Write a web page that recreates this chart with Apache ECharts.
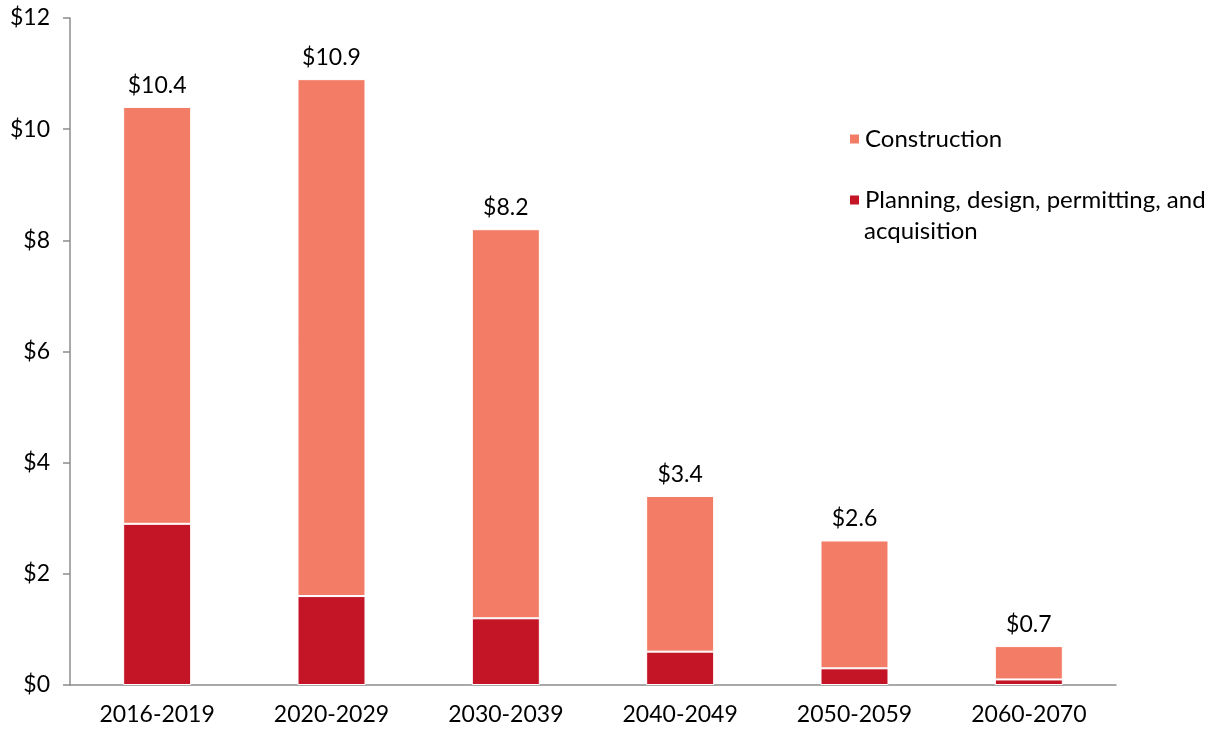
<!DOCTYPE html>
<html>
<head>
<meta charset="utf-8">
<script src="https://cdn.jsdelivr.net/npm/echarts@6/dist/echarts.min.js"></script>
<style>
  html, body { margin: 0; padding: 0; background: #fff; }
  #chart { width: 1215px; height: 731px; }
</style>
</head>
<body>
<div id="chart"></div>
<script>
const categories = ['2016-2019', '2020-2029', '2030-2039', '2040-2049', '2050-2059', '2060-2070'];
const planning = [2.9, 1.6, 1.2, 0.6, 0.3, 0.1];
const construction = [7.5, 9.3, 7.0, 2.8, 2.3, 0.6];
const totals = ['$10.4', '$10.9', '$8.2', '$3.4', '$2.6', '$0.7'];

const font = 'Lato, "Open Sans", sans-serif';
const axisColor = '#8c8c8c';
const planningName = 'Planning, design, permitting, and acquisition';

const chart = echarts.init(document.getElementById('chart'));
chart.setOption({
  animation: false,
  textStyle: { fontFamily: font, color: '#000' },
  grid: { left: 70, right: 99, top: 18, bottom: 46, containLabel: false },
  legend: {
    orient: 'vertical',
    left: 843,
    top: 122,
    itemWidth: 11,
    itemHeight: 11,
    itemGap: 37,
    icon: 'rect',
    data: ['Construction', planningName],
    formatter: n => n === planningName ? 'Planning, design, permitting, and' : n,
    textStyle: { fontSize: 24, color: '#000', fontFamily: font }
  },
  graphic: [{
    type: 'text',
    left: 864,
    top: 219,
    style: { text: 'acquisition', fontSize: 24, fontFamily: font, fill: '#000' }
  }],
  xAxis: {
    type: 'category',
    data: categories,
    axisLine: { lineStyle: { color: axisColor, width: 1.5 } },
    axisTick: { alignWithLabel: true, length: 6, lineStyle: { color: axisColor, width: 1.5 } },
    axisLabel: { fontSize: 23, color: '#000', margin: 18, fontFamily: font }
  },
  yAxis: {
    type: 'value',
    min: 0,
    max: 12,
    interval: 2,
    axisLine: { show: true, lineStyle: { color: axisColor, width: 1.5 } },
    axisTick: { show: true, length: 7, lineStyle: { color: axisColor, width: 1.5 } },
    splitLine: { show: false },
    axisLabel: { fontSize: 23, color: '#000', margin: 20, fontFamily: font, formatter: v => '$' + v }
  },
  series: [
    {
      name: planningName,
      type: 'bar',
      stack: 'total',
      barWidth: '39%',
      data: planning,
      itemStyle: { color: '#C41527', borderColor: '#fff', borderWidth: 1 }
    },
    {
      name: 'Construction',
      type: 'bar',
      stack: 'total',
      data: construction,
      itemStyle: { color: '#F37C66', borderColor: '#fff', borderWidth: 1 },
      label: {
        show: true,
        position: 'top',
        distance: 10,
        fontSize: 23,
        color: '#000',
        fontFamily: font,
        formatter: p => totals[p.dataIndex]
      }
    }
  ]
});
</script>
</body>
</html>
